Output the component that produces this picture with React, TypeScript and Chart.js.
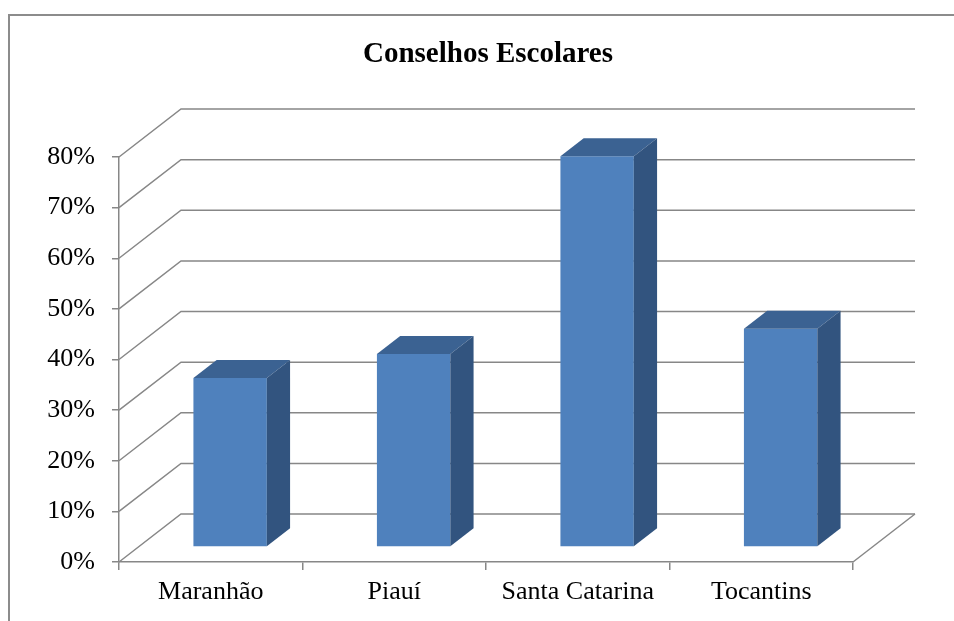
import React, { useEffect, useRef } from "react";
import { Chart, registerables } from "chart.js";

Chart.register(...registerables);

// Share of municipalities with school councils, by state (%)
const chartTitle = "Conselhos Escolares";
const states = ["Maranhão", "Piauí", "Santa Catarina", "Tocantins"];
const councilShare = [33.4, 38.1, 77.2, 43.1];
const axisMax = 80;
const axisStep = 10;

// Oblique projection of the box: how far the back wall sits from the front plane
const DEPTH_X = 62;
const DEPTH_Y = 48;
// Bars occupy the middle slice of the depth
const BAR_FRONT = 0.3125;
const BAR_BACK = 0.6875;

const GRID = "#878787";
const FACE_FRONT = "#4F81BD";
const FACE_TOP = "#3B6292";
const FACE_SIDE = "#32547F";
const SERIF = "'Liberation Serif', 'Times New Roman', serif";

const depthPlugin = {
  id: "depth3d",
  beforeDraw(chart: any) {
    const { ctx } = chart;
    ctx.save();
    ctx.strokeStyle = "#8c8c8c";
    ctx.lineWidth = 2;
    ctx.beginPath();
    ctx.moveTo(9, chart.height);
    ctx.lineTo(9, 15);
    ctx.lineTo(chart.width, 15);
    ctx.stroke();
    ctx.restore();
  },
  beforeDatasetsDraw(chart: any) {
    const { ctx } = chart;
    const x = chart.scales.x;
    const y = chart.scales.y;
    ctx.save();
    ctx.strokeStyle = GRID;
    ctx.lineWidth = 1.5;
    // side wall diagonals and back wall gridlines
    y.ticks.forEach((t: any) => {
      const py = y.getPixelForValue(t.value);
      ctx.beginPath();
      ctx.moveTo(x.left, py);
      ctx.lineTo(x.left + DEPTH_X, py - DEPTH_Y);
      ctx.lineTo(x.right + DEPTH_X, py - DEPTH_Y);
      ctx.stroke();
    });
    // right edge of the floor
    const base = y.getPixelForValue(0);
    ctx.beginPath();
    ctx.moveTo(x.right, base);
    ctx.lineTo(x.right + DEPTH_X, base - DEPTH_Y);
    ctx.stroke();
    ctx.restore();
  },
  beforeDatasetDraw(chart: any) {
    const { ctx } = chart;
    ctx.save();
    ctx.translate(DEPTH_X * BAR_FRONT, -DEPTH_Y * BAR_FRONT);
  },
  afterDatasetDraw(chart: any) {
    chart.ctx.restore();
  },
  afterDatasetsDraw(chart: any) {
    const { ctx } = chart;
    const meta = chart.getDatasetMeta(0);
    const fx = DEPTH_X * BAR_FRONT;
    const fy = DEPTH_Y * BAR_FRONT;
    const dx = DEPTH_X * (BAR_BACK - BAR_FRONT);
    const dy = DEPTH_Y * (BAR_BACK - BAR_FRONT);
    const poly = (pts: number[][], color: string) => {
      ctx.beginPath();
      ctx.moveTo(pts[0][0], pts[0][1]);
      for (let i = 1; i < pts.length; i++) ctx.lineTo(pts[i][0], pts[i][1]);
      ctx.closePath();
      ctx.fillStyle = color;
      ctx.fill();
    };
    ctx.save();
    meta.data.forEach((bar: any) => {
      const { x, y, base, width } = bar.getProps(["x", "y", "base", "width"], true);
      const l = x - width / 2 + fx;
      const r = x + width / 2 + fx;
      const t = y - fy;
      const b = base - fy;
      poly([[l, t], [l + dx, t - dy], [r + dx, t - dy], [r, t]], FACE_TOP);
      poly([[r, t], [r + dx, t - dy], [r + dx, b - dy], [r, b]], FACE_SIDE);
    });
    ctx.restore();
  },
};

export default function App() {
  const canvasRef = useRef<HTMLCanvasElement | null>(null);

  useEffect(() => {
    if (!canvasRef.current) return;
    const chart = new Chart(canvasRef.current, {
      type: "bar",
      data: {
        labels: states,
        datasets: [
          {
            data: councilShare,
            backgroundColor: FACE_FRONT,
            borderWidth: 0,
            barPercentage: 0.4,
            categoryPercentage: 1,
            clip: false as any,
          },
        ],
      },
      options: {
        responsive: false,
        animation: false,
        layout: { padding: { left: 22, right: 0, top: 0, bottom: 0 } },
        plugins: {
          legend: { display: false },
          tooltip: { enabled: false },
          title: {
            display: true,
            text: chartTitle,
            color: "#000",
            font: { family: SERIF, size: 29, weight: "bold" },
            padding: { top: 37.6, bottom: 84.6 },
          },
        },
        scales: {
          x: {
            grid: {
              drawOnChartArea: false,
              drawTicks: true,
              tickLength: 8,
              color: GRID,
              lineWidth: 1.5,
            },
            border: { display: true, color: GRID, width: 1.5 },
            ticks: {
              color: "#000",
              font: { family: SERIF, size: 26 },
              padding: 7,
              maxRotation: 0,
              autoSkip: false,
            },
            afterFit(s: any) {
              s.height = 59;
            },
          },
          y: {
            min: 0,
            max: axisMax,
            grid: {
              drawOnChartArea: false,
              drawTicks: true,
              tickLength: 7,
              color: GRID,
              lineWidth: 1.5,
            },
            border: { display: true, color: GRID, width: 1.5 },
            ticks: {
              stepSize: axisStep,
              color: "#000",
              font: { family: SERIF, size: 26 },
              padding: 17,
              callback: (v: any) => `${v}%`,
            },
            afterFit(s: any) {
              s.width = 97;
            },
          },
          depthRoom: {
            type: "linear",
            position: "right",
            display: true,
            grid: { display: false, drawTicks: false },
            border: { display: false },
            ticks: { display: false },
            afterFit(s: any) {
              s.width = 101;
            },
          },
        },
      },
      plugins: [depthPlugin],
    });
    return () => chart.destroy();
  }, []);

  return (
    <div style={{ position: "fixed", left: 0, top: 0, width: 954, height: 621, background: "#fff" }}>
      <canvas ref={canvasRef} width={954} height={621} />
    </div>
  );
}
